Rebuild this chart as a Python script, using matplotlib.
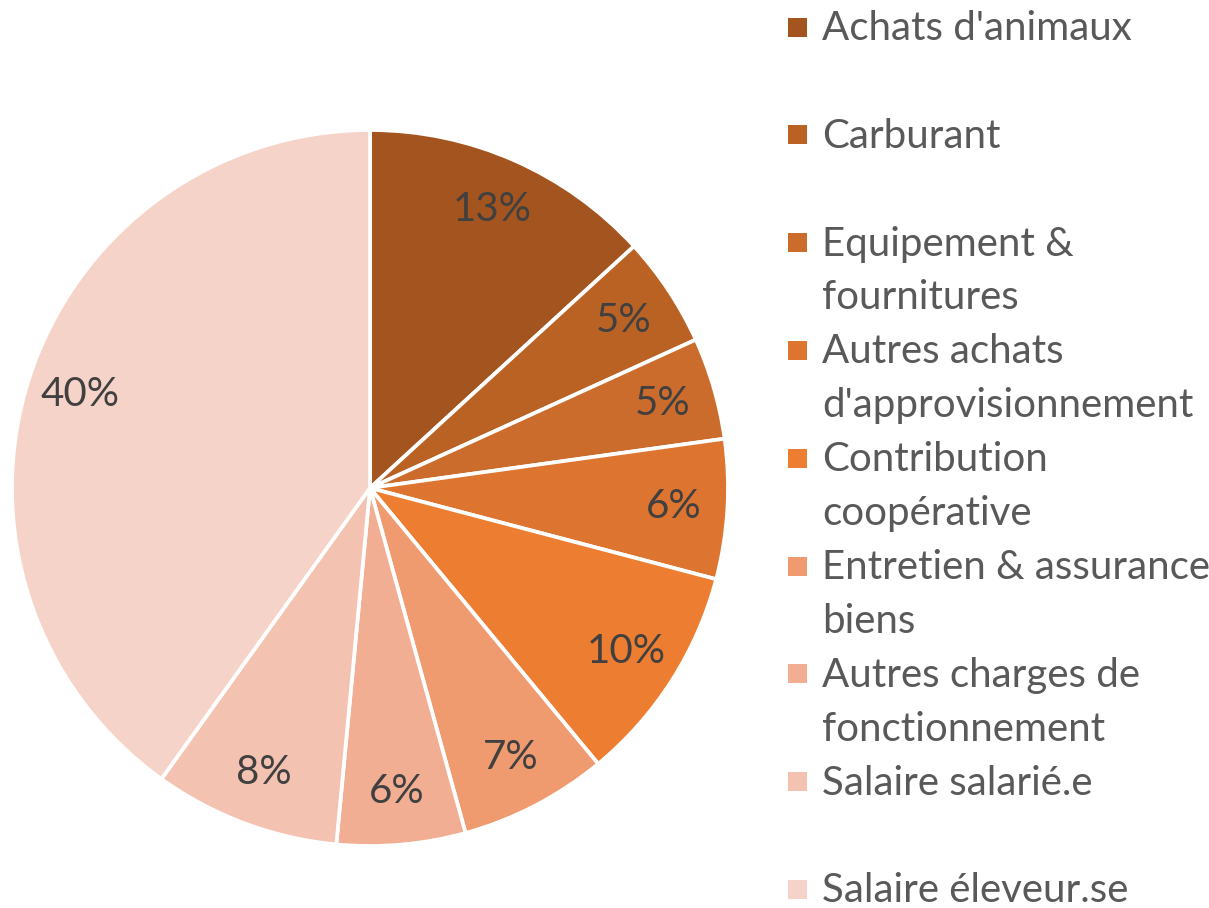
import matplotlib
matplotlib.use("Agg")
import matplotlib.pyplot as plt
from matplotlib.patches import Rectangle

categories = [
    "Achats d'animaux",
    "Carburant",
    "Equipement &\nfournitures",
    "Autres achats\nd'approvisionnement",
    "Contribution\ncoopérative",
    "Entretien & assurance\nbiens",
    "Autres charges de\nfonctionnement",
    "Salaire salarié.e",
    "Salaire éleveur.se",
]
values = [13.2, 5.0, 4.6, 6.3, 9.9, 6.7, 5.8, 8.4, 40.1]
colors = ["#A3541F", "#B96224", "#CB6C2D", "#DD7430", "#ED7D31",
          "#F09A70", "#F2AE93", "#F4C2B1", "#F6D3C8"]

FONT = "Lato"
W, H = 1209, 908
fig = plt.figure(figsize=(W / 100, H / 100), dpi=100)

cx, cy, r = 370, 488, 358
ax = fig.add_axes([(cx - r) / W, (H - cy - r) / H, 2 * r / W, 2 * r / H])
wedges, texts, autotexts = ax.pie(
    values, colors=colors, startangle=90, counterclock=False,
    autopct="%.0f%%", pctdistance=0.85, radius=1,
    wedgeprops=dict(edgecolor="white", linewidth=2.7),
    textprops=dict(fontsize=29, color="#404040", family=FONT),
)
ax.set_xlim(-1, 1)
ax.set_ylim(-1, 1)
ax.set_aspect("equal")
ax.axis("off")

# legend drawn manually: each entry occupies two text lines
x_sq, x_txt = 797, 822
y0, step = 27, 107.8
sq = 19
for i, (lab, col) in enumerate(zip(categories, colors)):
    yc = y0 + i * step
    fig.add_artist(Rectangle(((x_sq - sq / 2) / W, (H - yc - sq / 2) / H),
                             sq / W, sq / H, transform=fig.transFigure,
                             facecolor=col, edgecolor="none"))
    fig.text(x_txt / W, (H - yc + 17) / H, lab, ha="left", va="top",
             fontsize=29, color="#595959", family=FONT, linespacing=1.56)

fig.savefig("out.png", dpi=100, facecolor="white")
